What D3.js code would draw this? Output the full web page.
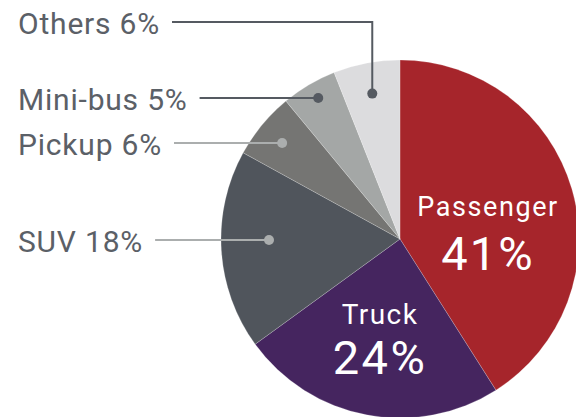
<!DOCTYPE html>
<html><head><meta charset="utf-8">
<script src="https://cdn.jsdelivr.net/npm/d3@7"></script>
<style>html,body{margin:0;padding:0;background:#fff;overflow:hidden}</style>
</head><body>
<svg id="c" width="576" height="417"></svg>
<script>
const categories = ["Passenger", "Truck", "SUV", "Pickup", "Mini-bus", "Others"];
const values = [41, 24, 18, 6, 5, 6];
const colors = ["#a6252b", "#45255f", "#50555c", "#757573", "#a4a7a6", "#dcdcde"];

const W = 576, H = 417, cx = 400, cy = 239, R = 179;
const svg = d3.select("#c");
const g = svg.append("g").attr("transform", `translate(${cx},${cy})`);
const pie = d3.pie().sort(null).value(d => d.v);
const data = categories.map((c, i) => ({c, v: values[i], col: colors[i]}));
const arcs = pie(data);
const arc = d3.arc().innerRadius(0).outerRadius(R);

g.selectAll("path.s").data(arcs).enter().append("path")
  .attr("d", arc).attr("fill", d => d.data.col)
  .attr("stroke", "#fff").attr("stroke-width", 0.4).attr("stroke-opacity", 0.5);

const font = "Roboto, 'DejaVu Sans', sans-serif";
// inside labels
const inside = {
  "Passenger": {x: 88, y1: -23, y2: 31, f1: 27, f2: 47, ls1: 1.6, ls2: 2},
  "Truck": {x: -20, y1: 85, y2: 135, f1: 28, f2: 47, ls1: 1.4, ls2: 2.4}
};
arcs.filter(a => inside[a.data.c]).forEach(a => {
  const L = inside[a.data.c];
  g.append("text").attr("x", L.x).attr("y", L.y1).attr("text-anchor", "middle")
    .attr("fill", "#fff").style("font-family", font).style("font-size", L.f1 + "px")
    .style("letter-spacing", L.ls1 + "px")
    .text(a.data.c);
  g.append("text").attr("x", L.x).attr("y", L.y2).attr("text-anchor", "middle")
    .attr("fill", "#fff").style("font-family", font).style("font-size", L.f2 + "px")
    .style("letter-spacing", L.ls2 + "px")
    .text(a.data.v + "%");
});

// outside labels
const outside = {
  "Others": {ly: 22, r: 148, dark: true, vertical: true},
  "Mini-bus": {ly: 98, r: 163, dark: true},
  "Pickup": {ly: 143, r: 152, dark: false},
  "SUV": {ly: 240, r: 131, dark: false}
};
const og = svg.append("g");
arcs.filter(a => outside[a.data.c]).forEach(a => {
  const L = outside[a.data.c];
  const col = L.dark ? "#555a61" : "#abaeae";
  const t = og.append("text").attr("x", 18).attr("y", L.ly + 12)
    .attr("fill", "#5b6067").style("font-family", font).style("font-size", "30px")
    .style("letter-spacing", "0.8px")
    .text(a.data.c + " " + a.data.v + "%");
  const bb = t.node().getBBox();
  const x0 = bb.x + bb.width + 12;
  let dx, dy;
  if (L.vertical) {
    const m = (a.startAngle + a.endAngle) / 2;
    dx = cx + L.r * Math.sin(m); dy = cy - L.r * Math.cos(m);
    og.append("path").attr("d", `M${x0},${L.ly}H${dx}V${dy}`)
      .attr("fill", "none").attr("stroke", col).attr("stroke-width", 2);
  } else {
    const yy = L.ly - cy;
    dx = cx - Math.sqrt(L.r * L.r - yy * yy); dy = L.ly;
    og.append("path").attr("d", `M${x0},${L.ly}H${dx}`)
      .attr("fill", "none").attr("stroke", col).attr("stroke-width", 2);
  }
  og.append("circle").attr("cx", dx).attr("cy", dy).attr("r", 5).attr("fill", col);
});
</script>
</body></html>
